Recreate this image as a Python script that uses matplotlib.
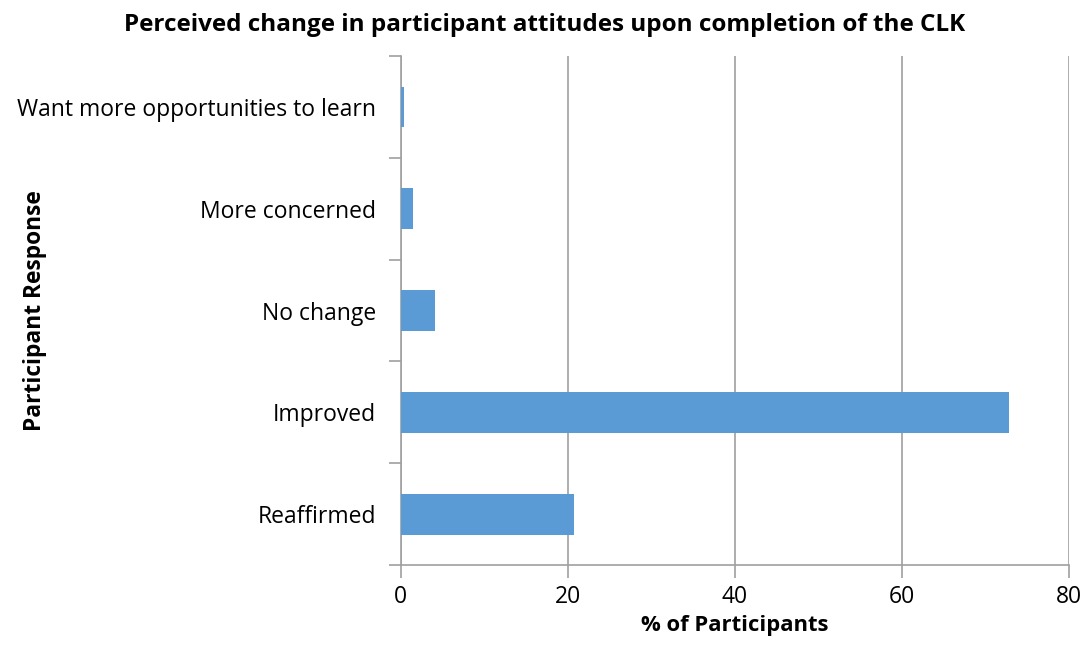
import matplotlib

matplotlib.use("Agg")
import matplotlib.pyplot as plt
import numpy as np

plt.rcParams["font.family"] = ["Open Sans", "DejaVu Sans"]

categories = ["Reaffirmed", "Improved", "No change", "More concerned",
              "Want more opportunities to learn"]
values = [20.7, 72.8, 4.15, 1.47, 0.4]
xticks = [0, 20, 40, 60, 80]

fig = plt.figure(figsize=(10.89, 6.64), dpi=100)
ax = fig.add_axes([0.368, 0.149, 0.6136, 0.7667])

y = np.arange(len(categories))
ax.barh(y, values, height=0.4, color="#5B9BD5", zorder=3)

ax.set_xlim(0, 80)
ax.set_ylim(-0.5, len(categories) - 0.5)
ax.set_xticks(xticks)
ax.set_xticklabels([str(t) for t in xticks], fontsize=16.5)
ax.set_yticks(y)
ax.set_yticklabels(categories, fontsize=16.5)
ax.tick_params(axis="y", length=0, pad=18)
ax.set_yticks(np.arange(-0.5, len(categories), 1), minor=True)
ax.tick_params(axis="y", which="minor", length=9, color="#a0a0a0", width=1.2)
ax.tick_params(axis="x", length=9, color="#a0a0a0", width=1.2, pad=5)

ax.grid(True, axis="x", color="#a0a0a0", linewidth=1.2, zorder=0)
for s in ["top", "right"]:
    ax.spines[s].set_visible(False)
for s in ["left", "bottom"]:
    ax.spines[s].set_color("#a0a0a0")
    ax.spines[s].set_linewidth(1.2)

ax.set_xlabel("% of Participants", fontsize=15.8, fontweight="bold", labelpad=5)
fig.text(0.032, 0.533, "Participant Response", rotation=90, fontsize=16.4,
         fontweight="bold", ha="center", va="center")
fig.suptitle("Perceived change in participant attitudes upon completion of the CLK",
             x=0.5, y=0.98, fontsize=17.5, fontweight="bold")

fig.savefig("out.png", dpi=100)
